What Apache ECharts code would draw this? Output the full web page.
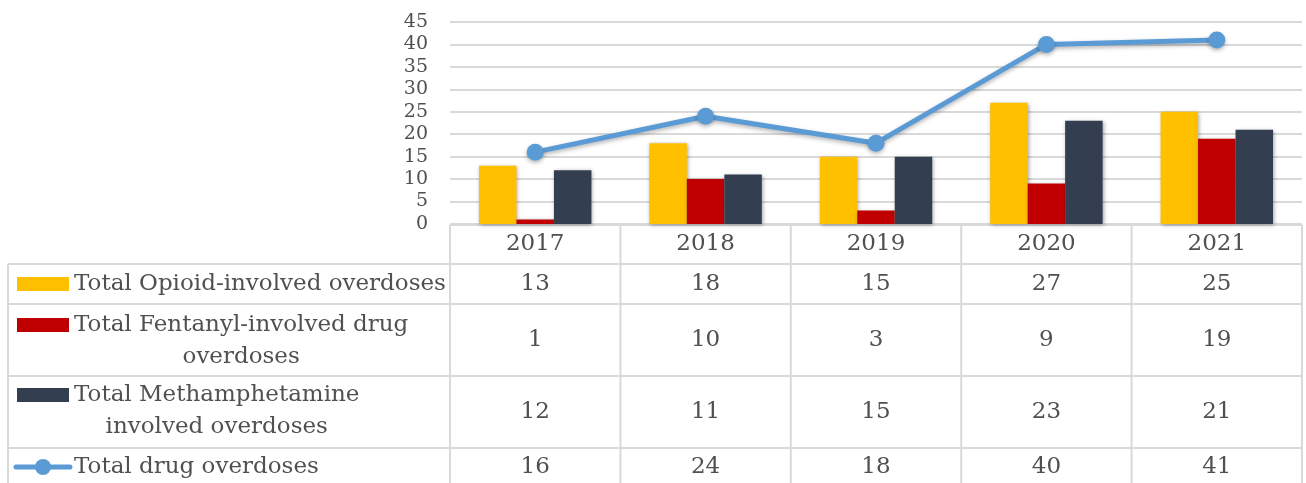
<!DOCTYPE html>
<html>
<head>
<meta charset="utf-8">
<title>Drug overdoses 2017-2021</title>
<style>
  html, body { margin: 0; padding: 0; background: #fff; }
  #main { width: 1306px; height: 483px; }
</style>
</head>
<body>
<div id="main"></div>
<script src="https://cdn.jsdelivr.net/npm/echarts@6/dist/echarts.min.js"></script>
<script>
// data
var years = ['2017', '2018', '2019', '2020', '2021'];
var opioid = [13, 18, 15, 27, 25];
var fentanyl = [1, 10, 3, 9, 19];
var meth = [12, 11, 15, 23, 21];
var totalDrug = [16, 24, 18, 40, 41];
var yMin = 0, yMax = 45, yStep = 5;
var rowLabels = [
  ['Total Opioid-involved overdoses'],
  ['Total Fentanyl-involved drug', 'overdoses'],
  ['Total Methamphetamine', 'involved overdoses'],
  ['Total drug overdoses']
];
var rowValues = [opioid, fentanyl, meth, totalDrug];

// style / layout
var colors = ['#FFC000', '#C00000', '#333F50', '#5B9BD5'];
var textColor = '#505050';
var lineColor = '#D9D9D9';
var font = '"DejaVu Serif", serif';
var tableSize = 23;
var plotLeft = 450, plotRight = 1302, plotTop = 22, plotBottom = 224;
var rowTops = [264, 304, 376, 448];
var rowFirstLine = [284, 325, 395, 467];
var tableLeft = 8;

var myChart = echarts.init(document.getElementById('main'));

var ctx = document.createElement('canvas').getContext('2d');
ctx.font = tableSize + 'px ' + font;

var graphics = [];
// table lines
graphics.push({ type: 'line', shape: { x1: plotLeft, y1: plotBottom + 1, x2: plotRight, y2: plotBottom + 1 },
  style: { stroke: lineColor, lineWidth: 2 } });
rowTops.forEach(function (y) {
  graphics.push({ type: 'line', shape: { x1: tableLeft, y1: y, x2: plotRight, y2: y },
    style: { stroke: lineColor, lineWidth: 2 } });
});
graphics.push({ type: 'line', shape: { x1: tableLeft, y1: rowTops[0], x2: tableLeft, y2: 483 },
  style: { stroke: lineColor, lineWidth: 2 } });
for (var c = 0; c <= years.length; c++) {
  var x = plotLeft + (plotRight - plotLeft) * c / years.length;
  graphics.push({ type: 'line', shape: { x1: x, y1: plotBottom + 1, x2: x, y2: 483 },
    style: { stroke: lineColor, lineWidth: 2 } });
}
// legend keys + row labels
rowLabels.forEach(function (lines, i) {
  var cy = rowFirstLine[i];
  if (i < 3) {
    graphics.push({ type: 'rect', shape: { x: 17, y: cy - 7, width: 52, height: 14 },
      style: { fill: colors[i] } });
  } else {
    graphics.push({ type: 'line', shape: { x1: 16, y1: cy, x2: 70, y2: cy },
      style: { stroke: colors[3], lineWidth: 5, lineCap: 'round' } });
    graphics.push({ type: 'circle', shape: { cx: 43, cy: cy, r: 8 },
      style: { fill: colors[3] } });
  }
  var w = Math.max.apply(null, lines.map(function (s) { return ctx.measureText(s).width; }));
  graphics.push({ type: 'text', style: {
    text: lines.join('\n'), x: 74 + w / 2, y: cy - 16, align: 'center', verticalAlign: 'top',
    lineHeight: 32, font: tableSize + 'px ' + font, fill: textColor } });
});

// extra category axes used as table rows
var rowOffsets = [284, 340, 412, 467].map(function (y) { return y - plotBottom; });
var xAxes = [{
  type: 'category', data: years, gridIndex: 0, position: 'bottom',
  axisLine: { show: false }, axisTick: { show: false },
  axisLabel: { margin: 20, verticalAlign: 'middle', color: textColor, fontFamily: font, fontSize: tableSize, interval: 0 }
}];
rowValues.forEach(function (vals, i) {
  xAxes.push({
    type: 'category', data: vals.map(String), gridIndex: 0, position: 'bottom', offset: rowOffsets[i],
    axisLine: { show: false }, axisTick: { show: false }, splitLine: { show: false },
    axisLabel: { margin: 0, verticalAlign: 'middle', color: textColor, fontFamily: font, fontSize: tableSize, interval: 0 }
  });
});

var barShadow = { shadowBlur: 4, shadowColor: 'rgba(0,0,0,0.35)', shadowOffsetX: 1, shadowOffsetY: 1 };

option = {
  animation: false,
  grid: { left: plotLeft, right: 1306 - plotRight, top: plotTop, bottom: 483 - plotBottom,
    containLabel: false, outerBoundsMode: 'none' },
  xAxis: xAxes,
  yAxis: {
    type: 'value', min: yMin, max: yMax, interval: yStep,
    axisLine: { show: false }, axisTick: { show: false },
    axisLabel: { margin: 22, color: textColor, fontFamily: font, fontSize: 19 },
    splitLine: { lineStyle: { color: lineColor, width: 2 } }
  },
  graphic: graphics,
  series: [
    { name: rowLabels[0].join(' '), type: 'bar', data: opioid, barGap: '0%', barCategoryGap: '34%',
      itemStyle: Object.assign({ color: colors[0] }, barShadow) },
    { name: rowLabels[1].join(' '), type: 'bar', data: fentanyl,
      itemStyle: Object.assign({ color: colors[1] }, barShadow) },
    { name: rowLabels[2].join(' '), type: 'bar', data: meth,
      itemStyle: Object.assign({ color: colors[2] }, barShadow) },
    { name: rowLabels[3].join(' '), type: 'line', data: totalDrug, z: 5,
      symbol: 'circle', symbolSize: 17,
      lineStyle: { color: colors[3], width: 5, shadowBlur: 4, shadowColor: 'rgba(0,0,0,0.3)', shadowOffsetY: 2 },
      itemStyle: { color: colors[3], shadowBlur: 4, shadowColor: 'rgba(0,0,0,0.3)', shadowOffsetY: 2 } }
  ]
};
myChart.setOption(option);
</script>
</body>
</html>
